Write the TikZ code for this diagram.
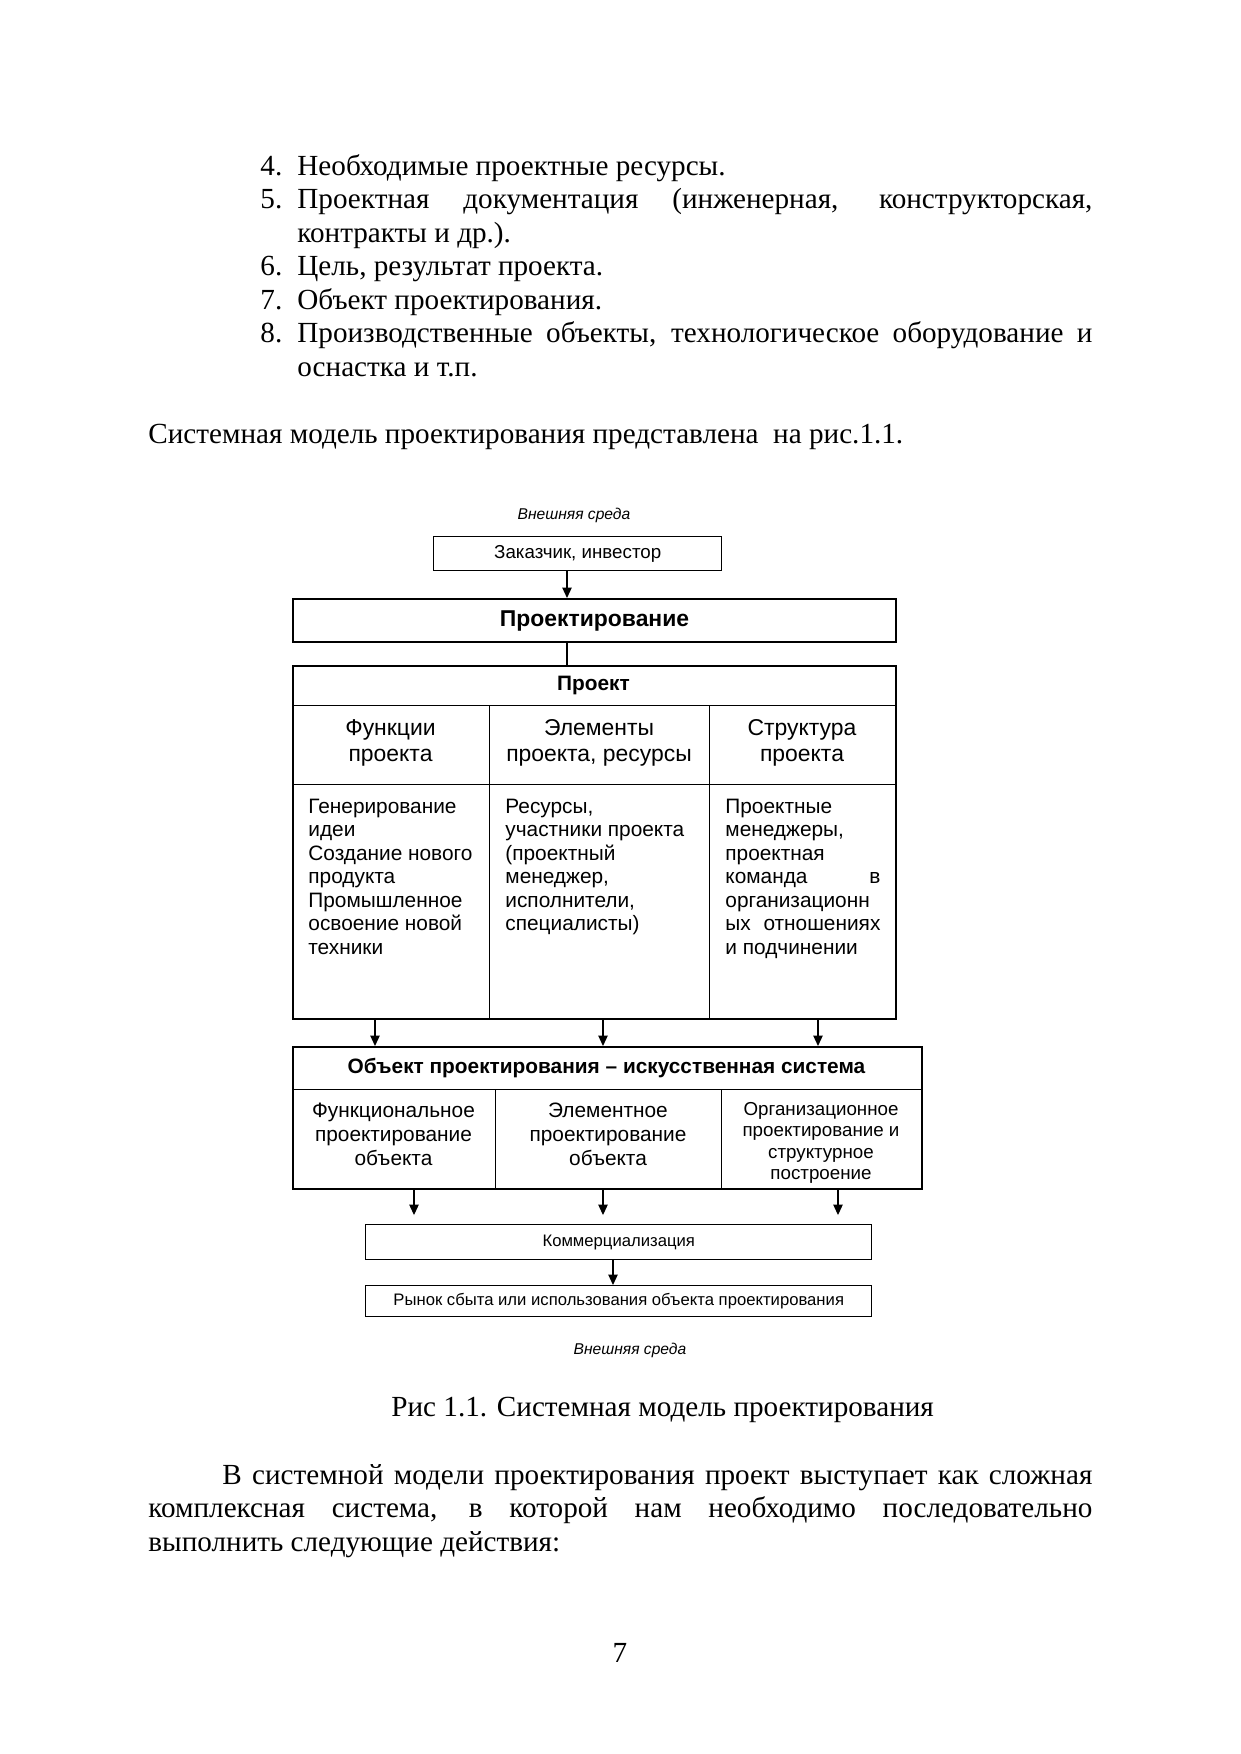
\documentclass[tikz,border=0pt]{standalone}
\usepackage{fontspec}
\setmainfont{Liberation Serif}
\newfontfamily\arial{Liberation Sans}
\usetikzlibrary{arrows.meta}
\newcommand\boxnode[6]{\node[#1, minimum width={(#5-#3)*0.48pt}, minimum height={(#6-#4)*0.48pt}] (#2) at (#3,#4) {};}
\begin{document}
\begin{tikzpicture}[x=0.48pt,y=-0.48pt,
  body/.style={anchor=base west, inner sep=0, font=\fontsize{14}{16}\selectfont},
  cell/.style={draw, line width=0.6pt, inner sep=0, anchor=north west},
  frame/.style={draw, line width=1pt, inner sep=0, anchor=north west},
  thinbox/.style={draw, line width=0.7pt, inner sep=0, anchor=north west},
  tl/.style={anchor=base west, inner sep=0},
  tc/.style={anchor=base, inner sep=0},
  envt/.style={inner sep=0, font=\arial\itshape\fontsize{7.5}{9}\selectfont},
  hdr/.style={tc, font=\arial\fontsize{11}{13}\selectfont},
  cbody/.style={tl, font=\arial\fontsize{10}{12}\selectfont},
  arr/.style={-{Triangle[length=5pt,width=4.5pt]}, line width=0.6pt}
]
\useasboundingbox[fill=white] (0,0) rectangle (1241,1754);

% ---- text above
\node[body] (n4) at (260,175) {4.};
\node[body] (t4) at (297,175) {Необходимые проектные ресурсы.};
\node[body] (n5) at (260,208.5) {5.};
\node[body] (t5) at (297,208.5) {\hbox to 381.6pt{Проектная документация (инженерная, конструкторская,}};
\node[body] (t5b) at (297,242) {контракты и др.).};
\node[body] (n6) at (260,275.5) {6.};
\node[body] (t6) at (297,275.5) {Цель, результат проекта.};
\node[body] (n7) at (260,309) {7.};
\node[body] (t7) at (297,309) {Объект проектирования.};
\node[body] (n8) at (260,342.5) {8.};
\node[body] (t8) at (297,342.5) {\hbox to 381.6pt{Производственные объекты, технологическое оборудование и}};
\node[body] (t8b) at (297,376) {оснастка и т.п.};
\node[body] (sys) at (148,443) {Системная модель проектирования представлена\ \ на рис.1.1.};

% ---- diagram
\node[envt] (envtop) at (574,515) {Внешняя среда};
\node[thinbox, minimum width={288*0.48pt}, minimum height={34*0.48pt}, font=\arial\fontsize{9}{11}\selectfont] (zak) at (433,536) {Заказчик, инвестор};
\node[frame, minimum width={603*0.48pt}, minimum height={43*0.48pt}, font=\arial\bfseries\fontsize{11}{13}\selectfont] (proekt) at (292,598) {Проектирование};

\coordinate (ax0) at (567,0);
\draw[arr] (zak.south -| ax0) -- (proekt.north -| ax0);

% Проект table
\boxnode{cell}{ph}{292}{665}{895}{705}
\boxnode{cell}{pc1}{292}{705}{489}{784}
\boxnode{cell}{pc2}{489}{705}{709}{784}
\boxnode{cell}{pc3}{709}{705}{895}{784}
\boxnode{cell}{pb1}{292}{784}{489}{1018}
\boxnode{cell}{pb2}{489}{784}{709}{1018}
\boxnode{cell}{pb3}{709}{784}{895}{1018}
\boxnode{frame}{ptab}{292}{665}{895}{1018}
\draw[line width=0.6pt] (proekt.south -| ax0) -- (ptab.north -| ax0);

\node[tc, font=\arial\bfseries\fontsize{10}{12}\selectfont] (phT) at (593.5,690) {Проект};
\node[hdr] (pc1a) at (390.5,735) {Функции};
\node[hdr] (pc1b) at (390.5,761) {проекта};
\node[hdr] (pc2a) at (599,735) {Элементы};
\node[hdr] (pc2b) at (599,761) {проекта, ресурсы};
\node[hdr] (pc3a) at (802,735) {Структура};
\node[hdr] (pc3b) at (802,761) {проекта};

\node[cbody] (b11) at (308,813) {Генерирование};
\node[cbody] (b12) at (308,836.5) {идеи};
\node[cbody] (b13) at (308,860) {Создание нового};
\node[cbody] (b14) at (308,883.5) {продукта};
\node[cbody] (b15) at (308,907) {Промышленное};
\node[cbody] (b16) at (308,930.5) {освоение новой};
\node[cbody] (b17) at (308,954) {техники};

\node[cbody] (b21) at (505,813) {Ресурсы,};
\node[cbody] (b22) at (505,836.5) {участники проекта};
\node[cbody] (b23) at (505,860) {(проектный};
\node[cbody] (b24) at (505,883.5) {менеджер,};
\node[cbody] (b25) at (505,907) {исполнители,};
\node[cbody] (b26) at (505,930.5) {специалисты)};

\node[cbody] (b31) at (725,813) {Проектные};
\node[cbody] (b32) at (725,836.5) {менеджеры,};
\node[cbody] (b33) at (725,860) {проектная};
\node[cbody] (b34) at (725,883.5) {\hbox to 74.4pt{команда\hfill в}};
\node[cbody] (b35) at (725,907) {организационн};
\node[cbody] (b36) at (725,930.5) {\hbox to 74.4pt{ых\hfill отношениях}};
\node[cbody] (b37) at (725,954) {и подчинении};

% Объект table
\boxnode{cell}{oh}{292}{1046}{921}{1089}
\boxnode{cell}{oc1}{292}{1089}{495}{1188}
\boxnode{cell}{oc2}{495}{1089}{721}{1188}
\boxnode{cell}{oc3}{721}{1089}{921}{1188}
\boxnode{frame}{otab}{292}{1046}{921}{1188}

\coordinate (ax1) at (375,0);
\coordinate (ax2) at (603,0);
\coordinate (ax3) at (818,0);
\draw[arr] (ptab.south -| ax1) -- (otab.north -| ax1);
\draw[arr] (ptab.south -| ax2) -- (otab.north -| ax2);
\draw[arr] (ptab.south -| ax3) -- (otab.north -| ax3);

\node[tc, font=\arial\bfseries\fontsize{10}{12}\selectfont] (ohT) at (606.5,1073) {Объект проектирования – искусственная система};
\node[tc, font=\arial\fontsize{10}{12}\selectfont] (o11) at (393.5,1117) {Функциональное};
\node[tc, font=\arial\fontsize{10}{12}\selectfont] (o12) at (393.5,1141) {проектирование};
\node[tc, font=\arial\fontsize{10}{12}\selectfont] (o13) at (393.5,1165) {объекта};
\node[tc, font=\arial\fontsize{10}{12}\selectfont] (o21) at (608,1117) {Элементное};
\node[tc, font=\arial\fontsize{10}{12}\selectfont] (o22) at (608,1141) {проектирование};
\node[tc, font=\arial\fontsize{10}{12}\selectfont] (o23) at (608,1165) {объекта};
\begin{scope}
\clip (721,1089) rectangle (921,1183);
\node[tc, font=\arial\fontsize{9}{11}\selectfont] (o31) at (821,1115) {Организационное};
\node[tc, font=\arial\fontsize{9}{11}\selectfont] (o32) at (821,1136.5) {проектирование и};
\node[tc, font=\arial\fontsize{9}{11}\selectfont] (o33) at (821,1158) {структурное};
\node[tc, font=\arial\fontsize{9}{11}\selectfont] (o34) at (821,1179.5) {построение};
\end{scope}

% Коммерциализация / Рынок
\node[thinbox, minimum width={506*0.48pt}, minimum height={35*0.48pt}, font=\arial\fontsize{8}{10}\selectfont] (kom) at (365,1224) {Коммерциализация};
\node[thinbox, minimum width={506*0.48pt}, minimum height={31*0.48pt}, font=\arial\fontsize{8}{10}\selectfont] (ryn) at (365,1285) {Рынок сбыта или использования объекта проектирования};

\coordinate (bx1) at (414,0);
\coordinate (bx2) at (603,0);
\coordinate (bx3) at (838,0);
\coordinate (bx4) at (613,0);
\draw[arr, shorten >=4.3pt] (otab.south -| bx1) -- (kom.north -| bx1);
\draw[arr, shorten >=4.3pt] (otab.south -| bx2) -- (kom.north -| bx2);
\draw[arr, shorten >=4.3pt] (otab.south -| bx3) -- (kom.north -| bx3);
\draw[arr] (kom.south -| bx4) -- (ryn.north -| bx4);

\node[envt] (envbot) at (630,1350) {Внешняя среда};

% ---- text below
\node[body] (cap) at (391,1416) {Рис 1.1. Системная модель проектирования};
\node[body] (p1) at (222,1484) {\hbox to 417.6pt{В системной модели проектирования проект выступает как сложная}};
\node[body] (p2) at (148,1517) {\hbox to 453.1pt{комплексная система, в которой нам необходимо последовательно}};
\node[body] (p3) at (148,1551) {выполнить следующие действия:};
\node[body, anchor=base] (pg) at (620,1662) {7};
\end{tikzpicture}
\end{document}
